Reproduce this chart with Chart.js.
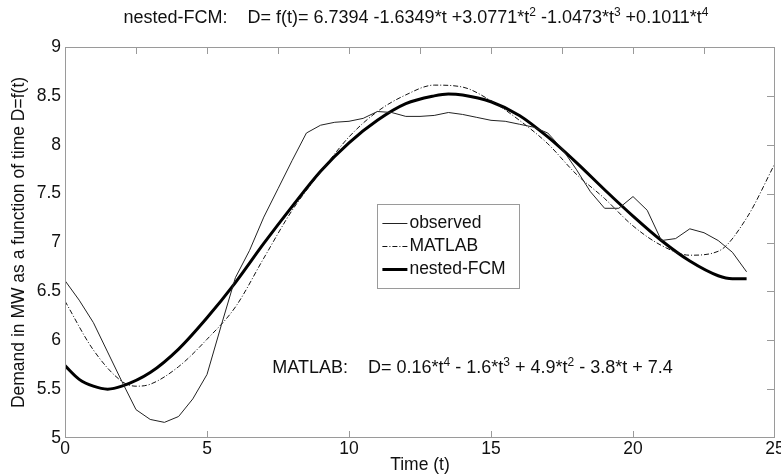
<!DOCTYPE html>
<html><head><meta charset="utf-8">
<script src="https://cdn.jsdelivr.net/npm/chart.js@4/dist/chart.umd.min.js"></script>
<style>html,body{margin:0;padding:0;background:#fff;}#wrap{width:781px;height:476px;position:relative;}</style>
</head><body><div id="wrap"><canvas id="c" width="781" height="476"></canvas></div>
<script>
// ---- data ----
const observedT = [0,0.5,1,1.5,2,2.5,3,3.5,4,4.5,5,5.5,6,6.5,7,7.5,8,8.5,9,9.5,10,10.5,11,11.5,12,12.5,13,13.5,14,14.5,15,15.5,16,16.5,17,17.5,18,18.5,19,19.5,20,20.5,21,21.5,22,22.5,23,23.5,24];
const observedD = [6.61,6.41,6.18,5.88,5.58,5.29,5.19,5.16,5.22,5.40,5.65,6.15,6.64,6.92,7.26,7.55,7.84,8.12,8.20,8.23,8.24,8.27,8.34,8.33,8.29,8.29,8.30,8.33,8.31,8.28,8.25,8.24,8.21,8.18,8.12,7.96,7.75,7.52,7.35,7.35,7.47,7.33,7.02,7.04,7.14,7.10,7.02,6.90,6.70];
const matlabT = [0,1,2,2.5,3,4,5,6,7,8,9,10,11,12,13,14,15,16,17,18,19,20,21,22,23,24,25];
const matlabD = [6.40,5.90,5.58,5.53,5.55,5.73,6.01,6.34,6.84,7.33,7.72,8.08,8.34,8.51,8.61,8.59,8.45,8.25,8.01,7.70,7.45,7.17,6.97,6.87,6.91,7.25,7.81];
const nestedT = [0,0.5,1,1.5,2,3,4,5,6,7,8,9,10,11,12,13,13.5,14,15,16,17,18,19,20,21,22,23,23.5,24];
const nestedD = [5.74,5.60,5.53,5.50,5.53,5.67,5.91,6.23,6.59,6.99,7.37,7.73,8.02,8.25,8.42,8.50,8.52,8.51,8.44,8.30,8.08,7.82,7.54,7.27,7.02,6.81,6.66,6.63,6.63];
const seriesLabels = ['observed','MATLAB','nested-FCM'];
const xTickLabels = [0,5,10,15,20,25];
const xMinorTicks = [2.5,5,7.5,10,12.5,15,17.5,20,22.5];
const yTickLabels = [5,5.5,6,6.5,7,7.5,8,8.5,9];
const titleParts = [['nested-FCM:    D= f(t)= 6.7394 -1.6349*t +3.0771*t',0],['2',1],[' -1.0473*t',0],['3',1],[' +0.1011*t',0],['4',1]];
const noteParts = [['MATLAB:    D= 0.16*t',0],['4',1],[' - 1.6*t',0],['3',1],[' + 4.9*t',0],['2',1],[' - 3.8*t + 7.4',0]];
const xTitle = 'Time (t)';
const yTitle = 'Demand in MW as a function of time D=f(t)';

const FONT = '"Liberation Sans", Arial, sans-serif';
const AXIS = '#9a9a9a';
const TXT = '#111';
const FS = 17.5;

function pts(t, d){ return t.map((v,i)=>({x:v,y:d[i]})); }

function drawRich(ctx, parts, x, y, align){
  const base = '18px ' + FONT, sup = '12px ' + FONT;
  let w = 0;
  parts.forEach(p=>{ ctx.font = p[1]?sup:base; w += ctx.measureText(p[0]).width; });
  let cx = align==='center' ? x - w/2 : x;
  ctx.textBaseline = 'alphabetic'; ctx.textAlign='left'; ctx.fillStyle = TXT;
  parts.forEach(p=>{
    ctx.font = p[1]?sup:base;
    ctx.fillText(p[0], cx, p[1]? y-7 : y);
    cx += ctx.measureText(p[0]).width;
  });
}

const decor = {
  id:'decor',
  afterDraw(chart){
    const {ctx, chartArea:a, scales:{x,y}} = chart;
    ctx.save();
    ctx.strokeStyle = AXIS; ctx.lineWidth = 1;
    ctx.strokeRect(a.left+0.5, a.top+0.5, a.right-a.left-1, a.bottom-a.top-1);
    ctx.beginPath();
    xMinorTicks.forEach(v=>{ const px=Math.round(x.getPixelForValue(v))+0.5; ctx.moveTo(px,a.top); ctx.lineTo(px,a.top+7); });
    xTickLabels.slice(1,-1).forEach(v=>{ const px=Math.round(x.getPixelForValue(v))+0.5; ctx.moveTo(px,a.bottom); ctx.lineTo(px,a.bottom-7); });
    yTickLabels.slice(1,-1).forEach(v=>{ const py=Math.round(y.getPixelForValue(v))+0.5; ctx.moveTo(a.right,py); ctx.lineTo(a.right-8,py); });
    ctx.stroke();
    drawRich(ctx, titleParts, (a.left+a.right)/2 - 4, 23, 'center');
    drawRich(ctx, noteParts, x.getPixelForValue(7.3), y.getPixelForValue(5.66), 'left');
    const lx = x.getPixelForValue(11.0), ly = y.getPixelForValue(7.394);
    const lw = 142, lh = 84;
    ctx.fillStyle = '#fff'; ctx.fillRect(lx, ly, lw, lh);
    ctx.strokeStyle = AXIS; ctx.lineWidth = 1;
    ctx.strokeRect(Math.round(lx)+0.5, Math.round(ly)+0.5, lw, lh);
    chart.data.datasets.forEach((ds,i)=>{
      const ry = Math.round(ly + 19 + i*23);
      ctx.save();
      ctx.strokeStyle = ds.borderColor; ctx.lineWidth = ds.borderWidth;
      ctx.setLineDash(ds.borderDash||[]);
      ctx.beginPath(); ctx.moveTo(lx+5, ry+0.5); ctx.lineTo(lx+30, ry+0.5); ctx.stroke();
      ctx.restore();
      ctx.fillStyle = TXT; ctx.font = FS+'px '+FONT; ctx.textBaseline='middle'; ctx.textAlign='left';
      ctx.fillText(ds.label, lx+32, ry);
    });
    ctx.restore();
  }
};

new Chart(document.getElementById('c'), {
  type:'line',
  data:{ datasets:[
    {label:seriesLabels[0], data:pts(observedT,observedD), borderColor:'#222', borderWidth:1, pointRadius:0, tension:0},
    {label:seriesLabels[1], data:pts(matlabT,matlabD), borderColor:'#111', borderWidth:1, borderDash:[5,2,1,2], pointRadius:0, cubicInterpolationMode:'monotone'},
    {label:seriesLabels[2], data:pts(nestedT,nestedD), borderColor:'#000', borderWidth:3, pointRadius:0, cubicInterpolationMode:'monotone'}
  ]},
  options:{
    responsive:false, animation:false, devicePixelRatio:1,
    layout:{padding:{top:47,right:6,left:0,bottom:0}},
    plugins:{legend:{display:false}, tooltip:{enabled:false}, title:{display:false}},
    scales:{
      x:{type:'linear', min:0, max:25,
        grid:{display:false, drawTicks:false}, border:{display:false},
        ticks:{stepSize:5, autoSkip:false, maxRotation:0, padding:1, color:TXT, font:{family:FONT,size:FS},
          callback:(v)=> xTickLabels.includes(v) ? String(v) : ''},
        title:{display:true, text:xTitle, color:TXT, font:{family:FONT,size:FS}, padding:{top:0,bottom:0}},
        afterFit(s){ s.height = 38; s.paddingLeft = 0; s.paddingRight = 0; }
      },
      y:{type:'linear', min:5, max:9,
        grid:{display:false, drawTicks:false}, border:{display:false},
        ticks:{stepSize:0.5, autoSkip:false, padding:4, color:TXT, font:{family:FONT,size:FS},
          callback:(v)=> yTickLabels.includes(v) ? String(v) : ''},
        title:{display:true, text:yTitle, color:TXT, font:{family:FONT,size:FS}, padding:{top:9,bottom:0}},
        afterFit(s){ s.width = 65; s.paddingTop = 0; s.paddingBottom = 0; }
      }
    }
  },
  plugins:[decor]
});
</script></body></html>
